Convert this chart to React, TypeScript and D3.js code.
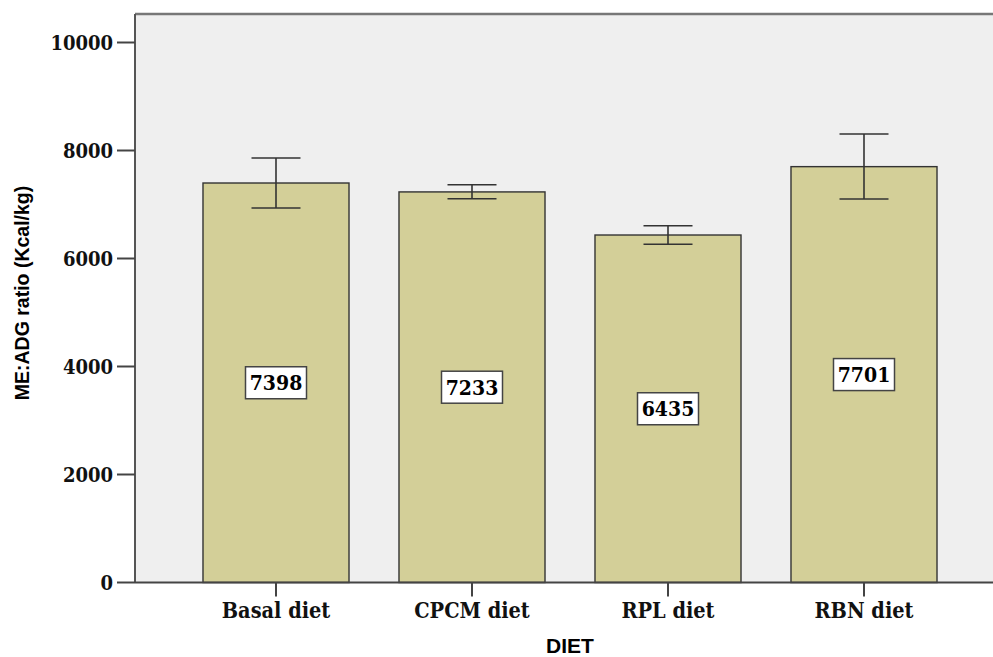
import React from "react";
import * as d3 from "d3";

const categories = ["Basal diet", "CPCM diet", "RPL diet", "RBN diet"];
const means = [7398, 7233, 6435, 7701];
const upper = [7861, 7367, 6607, 8306];
const lower = [6935, 7107, 6263, 7102];
const yTicks = [0, 2000, 4000, 6000, 8000, 10000];

const W = 993;
const H = 657;
const left = 135;
const top = 14;
const bottom = 582.5;

const serif = "'DejaVu Serif Condensed', 'DejaVu Serif', serif";
const sans = "'Liberation Sans', Arial, sans-serif";

export default function App() {
  const y = d3.scaleLinear().domain([0, 10000]).range([bottom, 42.5]);
  const x = d3
    .scaleBand<string>()
    .domain(categories)
    .range([178, 962])
    .paddingInner(0.255)
    .paddingOuter(0.1275);
  const bw = x.bandwidth();
  const cap = 49;

  return (
    <svg
      width={W}
      height={H}
      style={{ position: "absolute", left: 0, top: 0, background: "#fff" }}
    >
      <rect x={left} y={top} width={W - left + 10} height={bottom - top} fill="#efefef" />
      <line x1={left} x2={W + 5} y1={top} y2={top} stroke="#777" strokeWidth={2.5} />

      {categories.map((c, i) => {
        const cx = (x(c) as number) + bw / 2;
        return (
          <g key={c}>
            <rect
              x={x(c)}
              y={y(means[i])}
              width={bw}
              height={bottom - y(means[i])}
              fill="#d3cf98"
              stroke="#333"
              strokeWidth={1.4}
            />
            <line x1={cx} x2={cx} y1={y(upper[i])} y2={y(lower[i])} stroke="#333" strokeWidth={1.6} />
            <line x1={cx - cap / 2} x2={cx + cap / 2} y1={y(upper[i])} y2={y(upper[i])} stroke="#333" strokeWidth={1.6} />
            <line x1={cx - cap / 2} x2={cx + cap / 2} y1={y(lower[i])} y2={y(lower[i])} stroke="#333" strokeWidth={1.6} />
            <rect
              x={cx - 30.5}
              y={y(means[i] / 2) - 16}
              width={61}
              height={32}
              fill="#fff"
              stroke="#444"
              strokeWidth={1.5}
            />
            <text
              x={cx}
              y={y(means[i] / 2) + 7.5}
              textAnchor="middle"
              fontFamily={serif}
              fontWeight="bold"
              fontSize={21}
              fill="#000"
            >
              {means[i]}
            </text>
            <line x1={cx} x2={cx} y1={bottom} y2={bottom + 14} stroke="#444" strokeWidth={2} />
            <text
              x={cx}
              y={618}
              textAnchor="middle"
              fontFamily={serif}
              fontWeight="bold"
              fontSize={21.5}
              fill="#111"
            >
              {c}
            </text>
          </g>
        );
      })}

      <line x1={left} x2={left} y1={top} y2={bottom} stroke="#555" strokeWidth={2} />
      <line x1={left} x2={W + 5} y1={bottom} y2={bottom} stroke="#444" strokeWidth={2} />

      {yTicks.map((t) => (
        <g key={t}>
          <line x1={117} x2={left} y1={y(t)} y2={y(t)} stroke="#444" strokeWidth={2} />
          <text
            x={113}
            y={y(t) + 7}
            textAnchor="end"
            fontFamily={serif}
            fontWeight="bold"
            fontSize={20}
            fill="#111"
          >
            {t}
          </text>
        </g>
      ))}

      <text
        transform={`translate(29, 293) rotate(-90)`}
        textAnchor="middle"
        fontFamily={sans}
        fontWeight="bold"
        fontSize={19.5}
        fill="#000"
      >
        ME:ADG ratio (Kcal/kg)
      </text>
      <text
        x={570}
        y={653}
        textAnchor="middle"
        fontFamily={sans}
        fontWeight="bold"
        fontSize={21}
        fill="#000"
      >
        DIET
      </text>
    </svg>
  );
}
